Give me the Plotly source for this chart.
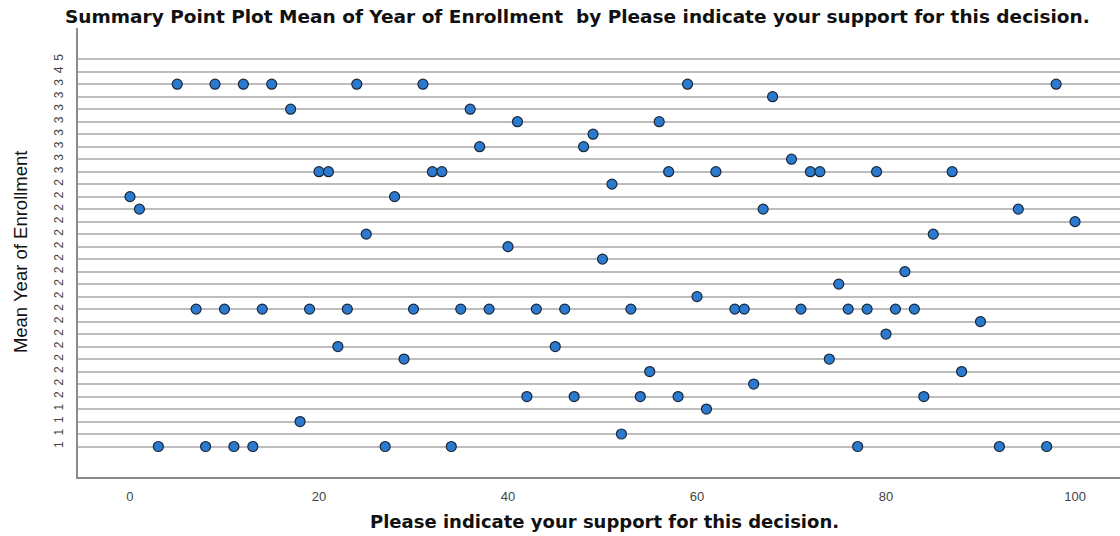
import plotly.graph_objects as go

# Support value (x) and the index of the "Mean Year of Enrollment" level (row) for each point
support = [5, 9, 12, 15, 24, 31, 59, 98,
           68,
           17, 36,
           41, 56,
           49,
           37, 48,
           70,
           20, 21, 32, 33, 57, 62, 72, 73, 79, 87,
           51,
           0, 28,
           1, 67, 94,
           100,
           25, 85,
           40,
           50,
           82,
           75,
           60,
           7, 10, 14, 19, 23, 30, 35, 38, 43, 46, 53, 64, 65, 71, 76, 78, 81, 83,
           90,
           80,
           22, 45,
           29, 74,
           55, 88,
           66,
           42, 47, 54, 58, 84,
           61,
           18,
           52,
           3, 8, 11, 13, 27, 34, 77, 92, 97]
level = [29]*8 + [28] + [27]*2 + [26]*2 + [25] + [24]*2 + [23] + [22]*10 + [21] + [20]*2 + \
        [19]*3 + [18] + [17]*2 + [16] + [15] + [14] + [13] + [12] + [11]*18 + [10] + [9] + \
        [8]*2 + [7]*2 + [6]*2 + [5] + [4]*5 + [3] + [2] + [1] + [0]*9

# Tick labels of the mean levels, bottom to top
level_labels = ["1"]*4 + ["2"]*18 + ["3"]*8 + ["4", "5"]
x_ticks = [0, 20, 40, 60, 80, 100]

title_text = "Summary Point Plot Mean of Year of Enrollment  by Please indicate your support for this decision."
x_title = "Please indicate your support for this decision."
y_title = "Mean Year of Enrollment"

fig = go.Figure()
fig.add_trace(go.Scatter(
    x=support, y=level, mode="markers",
    marker=dict(size=10, color="#2a7bd0", line=dict(color="#1b2738", width=1.2)),
    showlegend=False, hoverinfo="x+y"))

fig.update_layout(
    width=1120, height=536,
    margin=dict(l=78, r=0, t=28, b=59),
    paper_bgcolor="white", plot_bgcolor="white",
    font=dict(family="Liberation Sans, Arial, sans-serif", color="#222"),
    xaxis=dict(range=[-5.5, 104.76], tickvals=x_ticks, showgrid=False, zeroline=False,
               showline=True, linecolor="#8c8c8c", linewidth=2,
               ticks="outside", ticklen=6, tickcolor="rgba(0,0,0,0)",
               tickfont=dict(size=13, color="#444")),
    yaxis=dict(range=[-2.44, 33.5], tickvals=list(range(len(level_labels))), ticktext=level_labels,
               showgrid=True, gridcolor="#bdbdbd", gridwidth=1.6, zeroline=False,
               showline=True, linecolor="#8c8c8c", linewidth=2,
               ticks="outside", ticklen=8, tickcolor="rgba(0,0,0,0)",
               tickangle=-90, tickfont=dict(size=12, color="#444")),
    annotations=[
        dict(text="<b>" + title_text + "</b>", xref="paper", yref="paper", x=0.479, y=1.0245,
             xanchor="center", yanchor="middle", showarrow=False,
             font=dict(family="DejaVu Sans, sans-serif", size=18.5, color="#111")),
        dict(text="<b>" + x_title + "</b>", xref="paper", yref="paper", x=0.505, y=-0.098,
             xanchor="center", yanchor="middle", showarrow=False,
             font=dict(family="DejaVu Sans, sans-serif", size=18, color="#111")),
        dict(text=y_title, xref="paper", yref="paper", x=-0.0557, y=0.503,
             xanchor="center", yanchor="middle", showarrow=False, textangle=-90,
             font=dict(size=18.5, color="#111")),
    ],
)

fig.write_html("out.html")
